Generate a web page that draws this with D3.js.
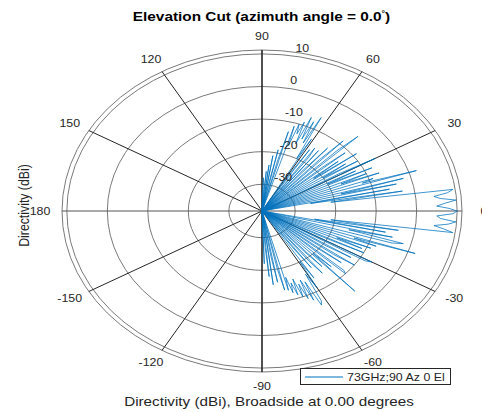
<!DOCTYPE html>
<html>
<head>
<meta charset="utf-8">
<script src="https://cdn.jsdelivr.net/npm/d3@7"></script>
<style>
  body { margin: 0; background: #fff; }
  svg { display: block; }
  text { font-family: "Liberation Sans", Arial, Helvetica, sans-serif; fill: #262626; }
</style>
</head>
<body>
<svg id="chart" width="482" height="412"></svg>
<script>
// elevation cut, 1 degree grid from -90 to 90
var elevation = d3.range(-90, 91);
var directivity = [
  -40, -40, -22, -40, -27, -18, -40, -15.4, -40, -24,
  -16, -40, -20, -13.3, -40, -13, -17, -12, -15, -11,
  -16, -10, -14, -9, -15, -8, -14, -5.8, -7, -16,
  -11, -20, -14, -40, -25, -17, -40, -19, -14, -40,
  -22, -15.7, -40, -4.6, -20, -14, -40, -10, -11, -40,
  -21, -13, -40, -16, -10, -40, -19, -12, -40, -8.5,
  -6.9, -40, -21, -10, -40, -11, -18, -9, -40, -8,
  -14, 1.8, -40, -4.6, -1.9, -16, -5, -40, -7, -25,
  -4, -21, 9.4, 7, 4.5, 8, 9.8, 6, 5, 9,
  10,
  8, 5, 7, 9.8, 6, 4.5, 8, 9.4, -21, -3,
  -26, -6, -40, -4, -18, -1.9, -40, 1.9, -12, -9,
  -40, -7, -17, -10, -40, -8, -20, -12, -40, -5.9,
  -16, -40, -10, -20, -13, -40, -9, -22, -14, -40,
  -11, -18, -40, -5.3, -12, -40, -8.8, -17, -40, -13,
  -22, -40, -15, -40, -18, -14.9, -40, -16, -24, -40,
  -13, -20, -6, -15, -8, -14, -7, -16, -9, -13,
  -10, -17, -11, -40, -13, -22, -40, -19, -30, -40,
  -21, -40, -24, -40, -26, -33, -40, -28, -40, -40
];
var radialTicks = [-30, -20, -10, 0, 10];
var angleTicks = [0, 30, 60, 90, 120, 150, 180, -150, -120, -90, -60, -30];
var rLimits = [-38.2, 11.2];
var legendLabel = "73GHz;90 Az 0 El";

var svg = d3.select("#chart");
var cx = 262, cy = 211, rx = 200, ry = 161;
var ky = ry / rx,
    stretch = 1.24; // picture is wider than tall

var r = d3.scaleLinear().domain(rLimits).range([0, rx]).clamp(true);

function pt(deg, db) {
  var a = deg * Math.PI / 180, rr = r(db);
  return [cx + rr * Math.cos(a), cy - rr * ky * Math.sin(a)];
}

function label(x, y, str, size, anchor) {
  return svg.append("text")
      .attr("transform", "translate(" + x + "," + y + ") scale(" + stretch + ",1)")
      .attr("text-anchor", anchor || "middle")
      .style("font-size", size + "px")
      .text(str);
}

// grid rings
var grid = svg.append("g");
grid.selectAll("ellipse")
  .data(radialTicks.concat([rLimits[1]]))
  .enter().append("ellipse")
    .attr("cx", cx).attr("cy", cy)
    .attr("rx", function(d) { return r(d); })
    .attr("ry", function(d) { return r(d) * ky; })
    .attr("fill", "none")
    .attr("stroke", "#7a7a7a")
    .attr("stroke-width", 1);

// spokes
grid.selectAll("line")
  .data(angleTicks)
  .enter().append("line")
    .attr("x1", cx).attr("y1", cy)
    .attr("x2", function(d) { return pt(d, rLimits[1])[0]; })
    .attr("y2", function(d) { return pt(d, rLimits[1])[1]; })
    .attr("stroke", function(d) { return (d == 0 || d == 180) ? "#555" : "#262626"; })
    .attr("stroke-width", function(d) { return (d == 90 || d == -90) ? 1.6 : 1; });

// pattern
var line = d3.line();
svg.append("path")
    .attr("d", line(elevation.map(function(e, i) { return pt(e, directivity[i]); })))
    .attr("fill", "none")
    .attr("stroke", "#0072bd")
    .attr("stroke-width", 0.75)
    .attr("stroke-linejoin", "miter");

// angle labels
angleTicks.forEach(function(d) {
  var a = d * Math.PI / 180;
  label(cx + 222 * Math.cos(a), cy - 175 * Math.sin(a) + 3.5, String(d), 10);
});

// radial labels
radialTicks.forEach(function(d) {
  var p = pt(82.5, d);
  label(p[0] + 8, p[1] - 3.5, String(d), 10, "start");
});

// title
var title = label(261.5, 20.5, "Elevation Cut (azimuth angle = 0.0", 12.4)
    .style("font-weight", "bold")
    .style("fill", "#000");
title.append("tspan").attr("dy", -5).style("font-size", "7px").text("\u00b0");
title.append("tspan").attr("dy", 5).text(")");

// axis labels
label(269, 406, "Directivity (dBi), Broadside at 0.00 degrees", 12.3);
svg.append("text")
    .attr("transform", "translate(29,205.5) scale(" + stretch + ",1) rotate(-90)")
    .attr("text-anchor", "middle")
    .style("font-size", "12.3px")
    .text("Directivity (dBi)");

// legend
var lg = svg.append("g");
lg.append("rect")
    .attr("x", 300.5).attr("y", 368.5)
    .attr("width", 150).attr("height", 16)
    .attr("fill", "#fff")
    .attr("stroke", "#262626");
lg.append("line")
    .attr("x1", 305).attr("x2", 343)
    .attr("y1", 377).attr("y2", 377)
    .attr("stroke", "#0072bd");
label(347, 381, legendLabel, 10, "start");
</script>
</body>
</html>
